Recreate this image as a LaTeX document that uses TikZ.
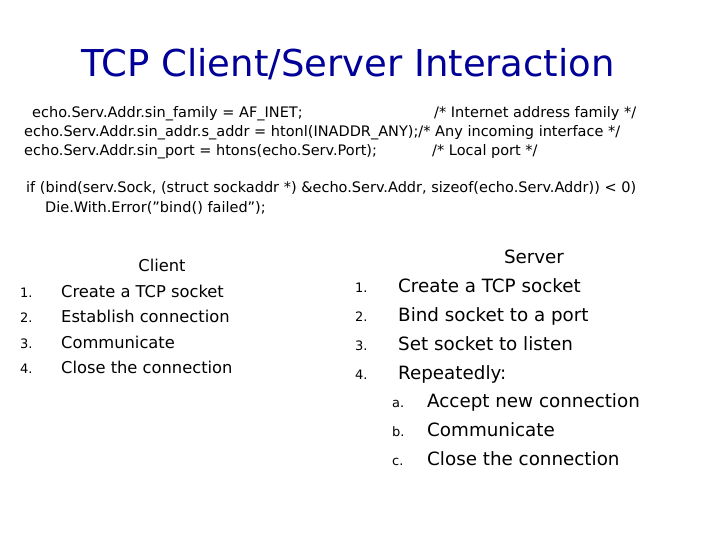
\documentclass[tikz,border=0pt]{standalone}
\usepackage{fontspec}
\setmainfont{DejaVu Sans}
\begin{document}
\begin{tikzpicture}[x=1pt,y=-1pt]
\tikzset{every node/.style={inner sep=0pt,anchor=base west},
  code/.style={font=\fontsize{14.5}{16}\selectfont},
  cli/.style={font=\fontsize{16.3}{19}\selectfont},
  srv/.style={font=\fontsize{18.3}{21}\selectfont},
  num/.style={font=\fontsize{13}{15}\selectfont}}
\useasboundingbox[fill=white] (0,0) rectangle (720,540);
\node[anchor=base,text=blue!60!black,font=\fontsize{37}{42}\selectfont] (title) at (348,77) {TCP Client/Server Interaction};
% code lines
\node[code] (c1) at (32,118) {echo.Serv.Addr.sin\_family = AF\_INET;};
\node[code] (c1r) at (434,118) {/* Internet address family */};
\node[code] (c2) at (24,137) {echo.Serv.Addr.sin\_addr.s\_addr = htonl(INADDR\_ANY);/* Any incoming interface */};
\node[code] (c3) at (24,156) {echo.Serv.Addr.sin\_port = htons(echo.Serv.Port);};
\node[code] (c3r) at (432,156) {/* Local port */};
\node[code] (b1) at (26,193) {if (bind(serv.Sock, (struct sockaddr *) \&echo.Serv.Addr, sizeof(echo.Serv.Addr)) < 0)};
\node[code] (b2) at (45,213) {Die.With.Error("bind() failed");};
% client
\node[cli,anchor=base] (client) at (162,271) {Client};
\foreach \i/\t [count=\k] in {297/Create a TCP socket,322/Establish connection,348/Communicate,373/Close the connection}{
  \node[num] (cn\k) at (20,\i) {\k.};
  \node[cli] (ct\k) at (61,\i) {\t};
}
% server
\node[srv,anchor=base] (server) at (534,263) {Server};
\foreach \i/\t [count=\k] in {292/Create a TCP socket,321/Bind socket to a port,350/Set socket to listen,379/Repeatedly:}{
  \node[num] (sn\k) at (355,\i) {\k.};
  \node[srv] (st\k) at (398,\i) {\t};
}
\foreach \i/\l/\t [count=\k] in {407/a/Accept new connection,436/b/Communicate,465/c/Close the connection}{
  \node[num] (sl\k) at (392,\i) {\l.};
  \node[srv] (su\k) at (427,\i) {\t};
}
\end{tikzpicture}
\end{document}
